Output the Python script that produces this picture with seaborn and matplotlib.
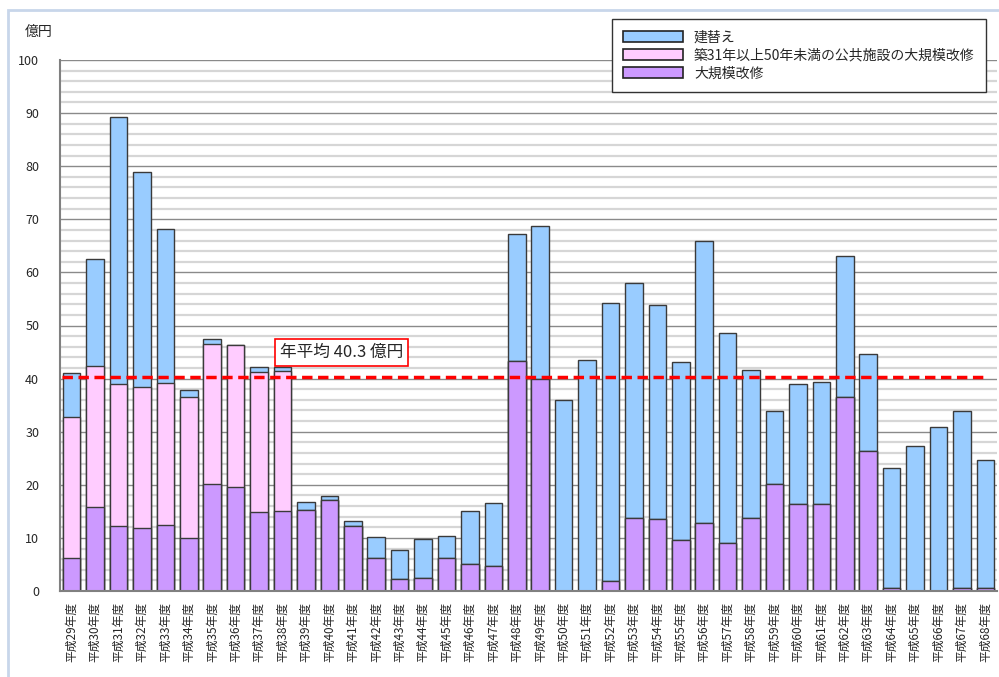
import numpy as np
import pandas as pd
import seaborn as sns
import matplotlib.pyplot as plt
from matplotlib.patches import Patch, Rectangle
from matplotlib.ticker import FixedLocator, MultipleLocator

# 平成29年度 ～ 平成68年度
years = [f"平成{y}年度" for y in range(29, 69)]

# 大規模改修
major_repair = [6.2, 15.9, 12.3, 11.8, 12.5, 9.9, 20.1, 19.6, 14.8, 15.1,
                15.3, 17.1, 12.2, 6.2, 2.2, 2.5, 6.2, 5.0, 4.7, 43.4,
                39.9, 0.0, 0.0, 1.8, 13.8, 13.6, 9.6, 12.9, 9.1, 13.8,
                20.1, 16.4, 16.4, 36.5, 26.4, 0.6, 0.0, 0.0, 0.5, 0.5]
# 築31年以上50年未満の公共施設の大規模改修
backlog_repair = [26.5, 26.5, 26.7, 26.7, 26.6, 26.7, 26.5, 26.7, 26.5, 26.3,
                  0, 0, 0, 0, 0, 0, 0, 0, 0, 0,
                  0, 0, 0, 0, 0, 0, 0, 0, 0, 0,
                  0, 0, 0, 0, 0, 0, 0, 0, 0, 0]
# 建替え
rebuild = [8.3, 20.2, 50.3, 40.5, 29.1, 1.3, 0.8, 0.0, 0.8, 0.8,
           1.5, 0.8, 0.9, 4.0, 5.6, 7.3, 4.2, 10.1, 11.9, 23.9,
           28.9, 35.9, 43.5, 52.4, 44.2, 40.3, 33.6, 53.1, 39.4, 27.9,
           13.8, 22.5, 23.0, 26.6, 18.2, 22.6, 27.4, 30.8, 33.4, 24.2]

average = 40.3

labels = ["建替え", "築31年以上50年未満の公共施設の大規模改修", "大規模改修"]
colors = ["#99ccff", "#ffccff", "#cc99ff"]

df = pd.DataFrame({"year": years, "major": major_repair,
                   "backlog": backlog_repair, "rebuild": rebuild})
df["lvl1"] = df["major"]
df["lvl2"] = df["major"] + df["backlog"]
df["lvl3"] = df["lvl2"] + df["rebuild"]

sns.set_style("white")
plt.rcParams["font.family"] = ["Noto Sans CJK JP", "DejaVu Sans"]

fig = plt.figure(figsize=(9.99, 6.77), dpi=100)
ax = fig.add_axes([60 / 999, 86 / 677, 937 / 999, 531 / 677])

# stacked bars: draw totals first, then cover with lower layers
for col, c in zip(["lvl3", "lvl2", "lvl1"], colors):
    sns.barplot(data=df, x="year", y=col, color=c, width=0.75,
                edgecolor="#3a3a3a", linewidth=1, saturation=1, ax=ax)

ax.set_xlim(-0.5, len(years) - 0.5)
ax.set_ylim(0, 100)
ax.set_xlabel("")
ax.set_ylabel("")

ax.set_yticks(np.arange(0, 101, 10))
ax.yaxis.set_minor_locator(MultipleLocator(2))
ax.yaxis.grid(True, which="minor", color="#d6d6d6", lw=1.6)
ax.yaxis.grid(True, which="major", color="#8a8a8a", lw=1.0)
ax.set_axisbelow(True)

ax.xaxis.set_minor_locator(FixedLocator(np.arange(-0.5, len(years), 1)))
ax.tick_params(axis="x", which="major", length=0, pad=8, labelsize=8.5,
               labelrotation=90)
ax.tick_params(axis="x", which="minor", length=5, color="#808080", direction="out")
ax.tick_params(axis="y", which="major", length=5, color="#808080", direction="out",
               pad=10, labelsize=9)
ax.tick_params(axis="y", which="minor", length=0)
for lab in ax.get_xticklabels():
    lab.set_va("top")

for s in ["top", "right"]:
    ax.spines[s].set_visible(False)
for s in ["left", "bottom"]:
    ax.spines[s].set_color("#808080")
    ax.spines[s].set_linewidth(1.5)

# annual average line and label
ax.hlines(average, -0.42, 38.9, colors="red", linestyles=(0, (3, 1.6)), lw=2.5, zorder=5)
ax.text(8.9, 45.0, f"年平均 {average} 億円", fontsize=12, va="center", ha="left",
        zorder=6, bbox=dict(boxstyle="square,pad=0.3", fc="white", ec="red", lw=1.2))

fig.text(25 / 999, 1 - 32 / 677, "億円", fontsize=10, va="center", ha="left")

handles = [Patch(facecolor=c, edgecolor="#222222", lw=1.2) for c in colors]
leg = ax.legend(handles, labels, loc="upper left", bbox_to_anchor=(612 / 999, 1 - 19 / 677),
                bbox_transform=fig.transFigure, borderaxespad=0, fontsize=10,
                handlelength=4.3, handleheight=0.9, labelspacing=0.3, borderpad=0.8,
                handletextpad=0.8, fancybox=False, framealpha=1, edgecolor="#333333")
leg.get_frame().set_linewidth(1.0)
leg.set_zorder(10)

# outer chart frame
fig.patches.append(Rectangle((8 / 999, -0.1), 1.2, 0.1 + 1 - 10 / 677, transform=fig.transFigure,
                             fill=False, ec="#c8d6ea", lw=2, zorder=0))

fig.savefig("out.png", dpi=100)
